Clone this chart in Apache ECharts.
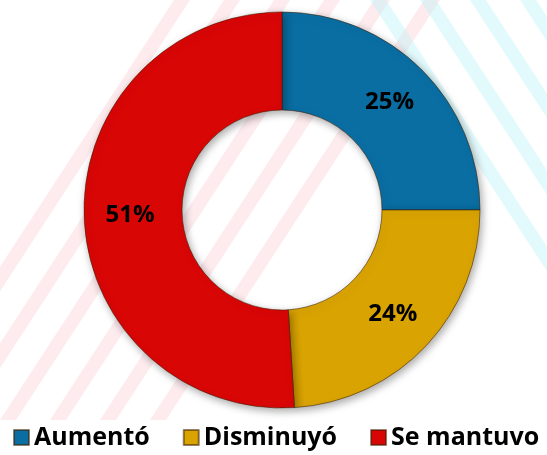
<!DOCTYPE html>
<html>
<head>
<meta charset="utf-8">
<script src="https://cdn.jsdelivr.net/npm/echarts@6/dist/echarts.min.js"></script>
<style>
html, body { margin: 0; padding: 0; background: #fff; }
#main { width: 547px; height: 455px; }
</style>
</head>
<body>
<div id="main"></div>
<script>
// datos
var categorias = ['Aumentó', 'Disminuyó', 'Se mantuvo'];
var valores = [25, 24, 51];
var colores = ['#0a6ea3', '#d9a302', '#d90606'];

// franjas de fondo (marca de agua)
function franjas() {
	var out = [];
	var i;
	for (i = 0; i < 6; i++) {
		var x0 = -100 + i * 50;
		out.push({
			type: 'polygon', silent: true, z: -10,
			shape: { points: [[x0, 420], [x0 + 16, 420], [x0 + 290, 0], [x0 + 274, 0]] },
			style: { fill: 'rgba(250,205,212,0.4)' }
		});
	}
	for (i = 0; i < 6; i++) {
		var x1 = 370 + i * 50;
		out.push({
			type: 'polygon', silent: true, z: -10,
			shape: { points: [[x1, 0], [x1 + 16, 0], [x1 + 290, 420], [x1 + 274, 420]] },
			style: { fill: 'rgba(185,242,248,0.4)' }
		});
	}
	return out;
}

var datos = categorias.map(function (c, i) {
	return {
		name: c,
		value: valores[i],
		itemStyle: { color: colores[i] }
	};
});

var chart = echarts.init(document.getElementById('main'));
chart.setOption({
	animation: false,
	color: colores,
	graphic: franjas(),
	legend: {
		data: categorias,
		bottom: 0,
		left: 8,
		icon: 'rect',
		itemWidth: 15,
		itemHeight: 15,
		itemGap: 33,
		textStyle: {
			fontFamily: 'Open Sans',
			fontWeight: 'bold',
			fontSize: 25,
			color: '#000'
		}
	},
	series: [{
		type: 'pie',
		center: [282, 210],
		radius: [100, 198],
		startAngle: 90,
		clockwise: true,
		itemStyle: {
			borderColor: 'rgba(60,30,0,0.55)',
			borderWidth: 1,
			shadowBlur: 8,
			shadowColor: 'rgba(0,0,0,0.35)',
			shadowOffsetX: 2,
			shadowOffsetY: 3
		},
		label: {
			position: 'inside',
			formatter: '{c}%',
			fontFamily: 'Open Sans',
			fontWeight: 'bold',
			fontSize: 24,
			color: '#000'
		},
		labelLine: { show: false },
		emphasis: { disabled: true },
		data: datos
	}]
});
</script>
</body>
</html>
